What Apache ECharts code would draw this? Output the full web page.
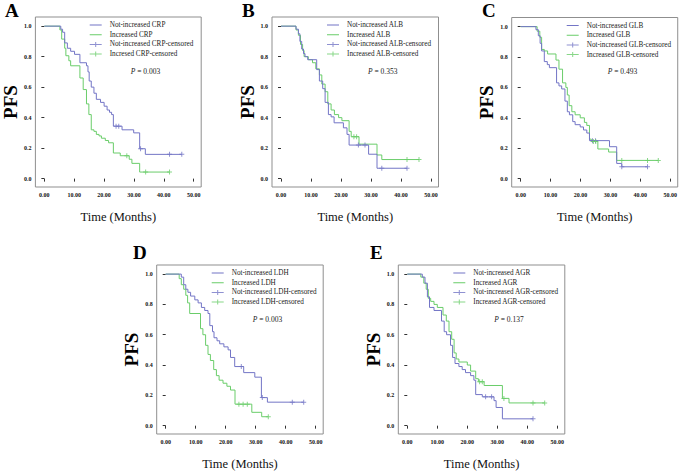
<!DOCTYPE html>
<html><head><meta charset="utf-8">
<script src="https://cdn.jsdelivr.net/npm/echarts@6/dist/echarts.min.js"></script>
<style>html,body{margin:0;padding:0;background:#fff}#c{width:680px;height:471px}</style>
</head><body><div id="c"></div>
<script>
// ---- data ----
const xTicks = [0, 10, 20, 30, 40, 50];
const yTicks = [0, 0.2, 0.4, 0.6, 0.8, 1.0];
const panelLetters = ['A', 'B', 'C', 'D', 'E'];
const pValues = ['0.003', '0.353', '0.493', '0.003', '0.137'];
const notIncNames = ['Not-increased CRP', 'Not-increased ALB', 'Not-increased GLB', 'Not-increased LDH', 'Not-increased AGR'];
const incNames = ['Increased CRP', 'Increased ALB', 'Increased GLB', 'Increased LDH', 'Increased AGR'];
const notIncCensNames = ['Not-increased CRP-censored', 'Not-increased ALB-censored', 'Not-increased GLB-censored', 'Not-increased LDH-censored', 'Not-increased AGR-censored'];
const incCensNames = ['Incresed CRP-censored', 'Increased ALB-censored', 'Increased GLB-censored', 'Increased LDH-censored', 'Increased AGR-censored'];

// Kaplan-Meier curves: [time (months), survival after step]
const crpNot = [[0,1],[5.5,0.98],[6.1,0.96],[6.8,0.89],[7.7,0.855],[8.8,0.835],[10.1,0.815],[11.9,0.76],[14.1,0.74],[14.6,0.70],[15.0,0.64],[15.7,0.60],[16.6,0.56],[17.4,0.52],[18.8,0.50],[20.0,0.475],[21.0,0.45],[21.8,0.435],[22.5,0.42],[23.1,0.344],[26.0,0.32],[29.9,0.30],[31.9,0.196],[33.8,0.159],[46.0,0.159]];
const crpInc = [[0,1],[5.2,0.975],[5.8,0.915],[6.8,0.855],[7.2,0.806],[8.2,0.773],[8.8,0.74],[11.9,0.66],[13.0,0.584],[14.1,0.49],[14.9,0.42],[15.7,0.32],[16.6,0.31],[17.4,0.29],[18.3,0.28],[19.1,0.265],[20.4,0.25],[21.5,0.235],[23.1,0.168],[25.4,0.15],[28.4,0.127],[29.3,0.10],[31.9,0.043],[41.9,0.043]];
const crpNotCens = [24.0, 24.9, 32.2, 41.9, 46.0];
const crpIncCens = [27.6, 33.9, 41.9];

const albNot = [[0,1],[5.0,0.98],[5.8,0.95],[6.3,0.90],[6.9,0.85],[7.5,0.82],[8.0,0.80],[8.9,0.78],[11.9,0.715],[12.8,0.64],[13.9,0.59],[14.7,0.50],[15.8,0.42],[16.7,0.405],[17.7,0.366],[20.8,0.333],[22.0,0.29],[22.7,0.22],[29.2,0.16],[32.0,0.068],[42.0,0.068]];
const albInc = [[0,1],[5.0,0.975],[5.8,0.94],[6.5,0.88],[7.2,0.84],[7.7,0.80],[9.1,0.78],[10.5,0.76],[11.6,0.72],[12.8,0.68],[13.6,0.62],[14.7,0.57],[15.6,0.49],[16.7,0.45],[17.8,0.42],[19.2,0.40],[20.3,0.38],[22.7,0.31],[23.4,0.275],[26.0,0.226],[32.0,0.155],[33.6,0.125],[46.0,0.125]];
const albNotCens = [25.8, 28.0, 33.6, 42.0];
const albIncCens = [24.3, 25.2, 42.0, 46.0];

const glbNot = [[0,1],[5.1,0.98],[5.9,0.94],[6.5,0.89],[7.0,0.84],[7.9,0.77],[8.9,0.75],[9.6,0.73],[12.0,0.63],[12.8,0.61],[13.7,0.59],[14.8,0.51],[15.6,0.44],[16.3,0.42],[17.4,0.375],[18.2,0.355],[19.9,0.34],[21.0,0.32],[22.1,0.30],[23.0,0.25],[29.7,0.21],[32.1,0.10],[33.8,0.078],[42.4,0.078]];
const glbInc = [[0,1],[5.5,0.97],[6.4,0.93],[7.0,0.85],[7.9,0.84],[9.0,0.82],[11.8,0.78],[12.8,0.72],[14.0,0.63],[15.1,0.60],[15.6,0.55],[16.2,0.48],[17.1,0.44],[18.2,0.42],[19.9,0.40],[21.3,0.37],[22.1,0.35],[23.0,0.26],[23.6,0.245],[25.8,0.195],[29.4,0.175],[32.1,0.12],[46.0,0.12]];
const glbNotCens = [24.0, 25.0, 33.8, 42.4];
const glbIncCens = [24.3, 25.1, 33.8, 42.4, 46.0];

const ldhNot = [[0,1],[5.2,0.98],[6.0,0.93],[6.7,0.90],[7.4,0.88],[8.3,0.855],[9.7,0.83],[10.8,0.81],[11.9,0.78],[13.0,0.76],[14.1,0.74],[14.7,0.66],[15.6,0.62],[16.1,0.58],[17.1,0.56],[18.0,0.54],[19.4,0.52],[20.8,0.50],[21.6,0.45],[23.0,0.39],[26.0,0.35],[29.7,0.32],[31.9,0.185],[33.9,0.155],[46.0,0.155]];
const ldhInc = [[0,1],[4.5,0.97],[5.2,0.93],[6.0,0.90],[6.7,0.86],[7.3,0.81],[8.0,0.74],[11.6,0.64],[12.4,0.60],[13.3,0.53],[14.1,0.47],[14.9,0.43],[16.0,0.37],[16.9,0.33],[17.8,0.30],[19.1,0.28],[20.4,0.26],[21.6,0.235],[23.1,0.142],[28.7,0.088],[32.0,0.059],[34.2,0.059]];
const ldhNotCens = [25.2, 32.2, 42.2, 46.0];
const ldhIncCens = [24.4, 25.8, 27.2, 34.2];

const agrNot = [[0,1],[5.0,0.98],[5.9,0.94],[6.7,0.85],[7.4,0.78],[8.9,0.76],[11.4,0.69],[12.3,0.62],[13.1,0.60],[14.4,0.53],[15.1,0.45],[15.9,0.41],[17.2,0.39],[18.3,0.37],[19.4,0.35],[21.1,0.33],[22.2,0.30],[22.8,0.205],[25.0,0.19],[28.9,0.165],[29.6,0.12],[31.7,0.045],[41.9,0.045]];
const agrInc = [[0,1],[4.5,0.98],[5.5,0.94],[6.3,0.90],[7.0,0.84],[7.8,0.82],[8.9,0.80],[10.0,0.78],[11.9,0.73],[13.0,0.69],[13.9,0.62],[14.8,0.57],[15.6,0.48],[16.3,0.44],[17.2,0.42],[20.0,0.40],[21.1,0.36],[22.8,0.31],[23.7,0.29],[25.6,0.265],[31.7,0.18],[33.9,0.15],[45.8,0.15]];
const agrNotCens = [26.1, 28.1, 41.9];
const agrIncCens = [24.1, 25.0, 32.2, 41.9, 45.8];

const notIncCurves = [crpNot, albNot, glbNot, ldhNot, agrNot];
const incCurves = [crpInc, albInc, glbInc, ldhInc, agrInc];
const notIncCensTimes = [crpNotCens, albNotCens, glbNotCens, ldhNotCens, agrNotCens];
const incCensTimes = [crpIncCens, albIncCens, glbIncCens, ldhIncCens, agrIncCens];

// ---- styling / layout ----
const BLUE = '#7375c6';
const GREEN = '#6acd6a';
const SERIF = 'Liberation Serif';
const W = 166.5;
const layout = [
  {left: 34.7, top: 17, h: 170, lx: 5, ly: 1},
  {left: 272, top: 17, h: 170, lx: 242, ly: 1},
  {left: 511.7, top: 17.5, h: 169.5, lx: 482, ly: 1},
  {left: 156.7, top: 265, h: 169, lx: 133, ly: 243},
  {left: 398.3, top: 265, h: 169, lx: 370, ly: 243}
];

function survivalAt(curve, t) {
  let s = curve[0][1];
  for (const p of curve) { if (p[0] <= t) s = p[1]; }
  return s;
}

const LINE_ICON = 'path://M0,0h0.01v0.01h-0.01z M0,3.5h12v1h-12z M14.99,7.99h0.01v0.01h-0.01z';
const CENS_ICON = 'path://M0,0h0.01v0.01h-0.01z M0,3.5h12v1h-12z M5.5,1.5h1v5h-1z M14.99,7.99h0.01v0.01h-0.01z';
const PLUS = 'path://M2,0h1v5h-1z M0,2h5v1h-5z';

const grid = [], xAxis = [], yAxis = [], series = [], legend = [], title = [];
layout.forEach((g, i) => {
  grid.push({left: g.left, top: g.top, width: W, height: g.h, show: true, borderColor: '#8f8f8f', borderWidth: 1, containLabel: false});
  xAxis.push({
    gridIndex: i, type: 'value', min: -3, max: 52.5,
    axisLine: {show: false}, splitLine: {show: false},
    axisTick: {show: true, customValues: xTicks, length: 3, lineStyle: {color: '#333'}},
    axisLabel: {customValues: xTicks, formatter: v => v.toFixed(2), fontFamily: SERIF, fontWeight: 'bold', fontSize: 6, color: '#111', margin: 5},
    name: 'Time (Months)', nameLocation: 'middle', nameGap: 23,
    nameTextStyle: {fontFamily: SERIF, fontSize: 12.5, color: '#111'}
  });
  yAxis.push({
    gridIndex: i, type: 'value', min: -0.055, max: 1.06,
    axisLine: {show: false}, splitLine: {show: false},
    axisTick: {show: true, customValues: yTicks, length: 3, lineStyle: {color: '#333'}},
    axisLabel: {customValues: yTicks, formatter: v => v.toFixed(1), fontFamily: SERIF, fontWeight: 'bold', fontSize: 6, color: '#111', margin: 4},
    name: 'PFS', nameLocation: 'middle', nameGap: 13, nameRotate: 90,
    nameTextStyle: {fontFamily: SERIF, fontSize: 19, fontWeight: 'bold', color: '#000'}
  });
  const lineBase = {type: 'line', step: 'end', symbol: 'none', xAxisIndex: i, yAxisIndex: i, silent: true, animation: false};
  series.push(Object.assign({}, lineBase, {name: notIncNames[i], data: notIncCurves[i], color: BLUE, itemStyle: {color: BLUE}, lineStyle: {color: BLUE, width: 1}, z: 3}));
  series.push(Object.assign({}, lineBase, {name: incNames[i], data: incCurves[i], color: GREEN, itemStyle: {color: GREEN}, lineStyle: {color: GREEN, width: 1}, z: 2}));
  series.push({type: 'scatter', name: notIncCensNames[i], xAxisIndex: i, yAxisIndex: i, silent: true, animation: false, symbol: PLUS, symbolSize: 5, color: BLUE, itemStyle: {color: BLUE}, z: 4,
    data: notIncCensTimes[i].map(t => [t, survivalAt(notIncCurves[i], t)])});
  series.push({type: 'scatter', name: incCensNames[i], xAxisIndex: i, yAxisIndex: i, silent: true, animation: false, symbol: PLUS, symbolSize: 5, color: GREEN, itemStyle: {color: GREEN}, z: 4,
    data: incCensTimes[i].map(t => [t, survivalAt(incCurves[i], t)])});
  legend.push({
    orient: 'vertical', left: g.left + 55, top: g.top + 4, padding: 0,
    itemWidth: 15, itemHeight: 8, itemGap: 1.7, selectedMode: false,
    itemStyle: {borderWidth: 0},
    textStyle: {fontFamily: SERIF, fontSize: 7.2, color: '#222'},
    data: [
      {name: notIncNames[i], icon: LINE_ICON},
      {name: incNames[i], icon: LINE_ICON},
      {name: notIncCensNames[i], icon: CENS_ICON},
      {name: incCensNames[i], icon: CENS_ICON}
    ]
  });
  title.push({text: panelLetters[i], left: g.lx, top: g.ly, padding: 0,
    textStyle: {fontFamily: SERIF, fontSize: 19, fontWeight: 'bold', color: '#000'}});
  title.push({text: '{i|P} = ' + pValues[i], left: g.left + 96, top: g.top + 50, padding: 0,
    textStyle: {fontFamily: SERIF, fontSize: 7.5, fontWeight: 'normal', color: '#222',
      rich: {i: {fontStyle: 'italic', fontFamily: SERIF, fontSize: 7.5, color: '#222'}}}});
});

const chart = echarts.init(document.getElementById('c'), null, {renderer: 'svg'});
chart.setOption({backgroundColor: '#fff', animation: false, grid, xAxis, yAxis, series, legend, title});
</script>
</body></html>
